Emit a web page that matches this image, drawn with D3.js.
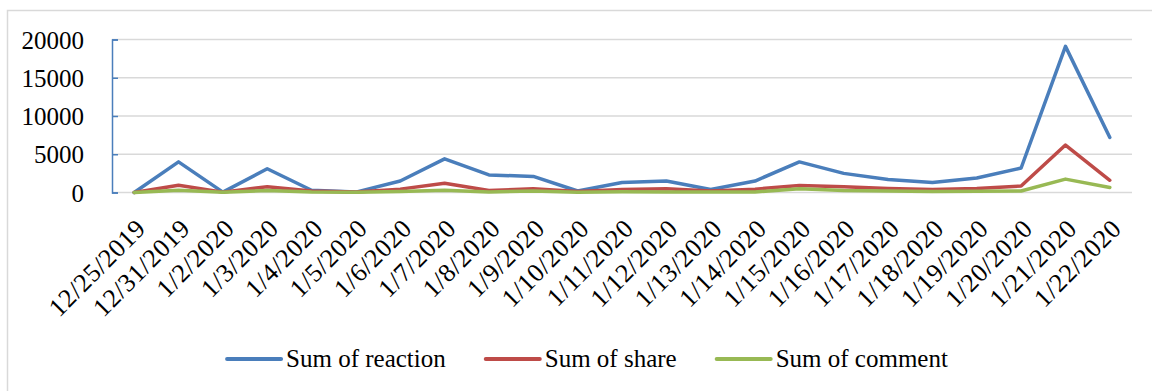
<!DOCTYPE html>
<html>
<head>
<meta charset="utf-8">
<script src="https://cdn.jsdelivr.net/npm/d3@7"></script>
<style>
  html, body { margin: 0; padding: 0; background: #fff; }
  svg { display: block; }
</style>
</head>
<body>
<div id="chart"></div>
<script>
// category labels on the x axis
const dates = ['12/25/2019', '12/31/2019', '1/2/2020', '1/3/2020', '1/4/2020', '1/5/2020',
    '1/6/2020', '1/7/2020', '1/8/2020', '1/9/2020', '1/10/2020', '1/11/2020', '1/12/2020',
    '1/13/2020', '1/14/2020', '1/15/2020', '1/16/2020', '1/17/2020', '1/18/2020',
    '1/19/2020', '1/20/2020', '1/21/2020', '1/22/2020']

// values
const reaction = [0, 4000, 50, 3100, 300, 50, 1500, 4400, 2300, 2100, 200, 1300, 1500,
    400, 1500, 4000, 2500, 1700, 1300, 1900, 3200, 19100, 7200]
const share = [0, 950, 50, 750, 200, 50, 440, 1200, 250, 480, 120, 400, 500,
    200, 440, 900, 750, 530, 400, 530, 850, 6200, 1600]
const comment = [0, 300, 20, 250, 50, 20, 120, 300, 80, 180, 40, 100, 80,
    50, 80, 500, 250, 180, 130, 150, 200, 1750, 650]

const yTicks = [0, 5000, 10000, 15000, 20000]

const series = [
    {name: 'Sum of reaction', values: reaction, color: '#4a7ebb'},
    {name: 'Sum of share', values: share, color: '#be4b48'},
    {name: 'Sum of comment', values: comment, color: '#98b954'}
]

const width = 1152,
    height = 391
const font = '"Liberation Serif", "Times New Roman", serif'

let svg = d3.select('#chart').append('svg')
    .attr('width', width)
    .attr('height', height)

// outer chart border
svg.append('rect')
    .attr('x', 7.5)
    .attr('y', 10.5)
    .attr('width', width + 10)
    .attr('height', height + 10)
    .attr('fill', 'none')
    .attr('stroke', '#d9d9d9')
    .attr('stroke-width', 1.5)

let plotLeft = 112,
    plotRight = 1132,
    plotTop = 39.5,
    plotBottom = 192.5

let x = d3.scaleBand().domain(dates).range([plotLeft, plotRight]).padding(0)
let y = d3.scaleLinear().domain([0, 20000]).range([plotBottom, plotTop])
let cx = (d) => x(d) + x.bandwidth() / 2

// gridlines
svg.append('g').attr('class', 'grid')
    .selectAll('line')
    .data(yTicks)
    .enter().append('line')
    .attr('x1', plotLeft)
    .attr('x2', plotRight)
    .attr('y1', (d) => y(d))
    .attr('y2', (d) => y(d))
    .attr('stroke', '#d9d9d9')
    .attr('stroke-width', 1.5)

// y axis: blue line, ticks pointing into the plot
let yAxis = svg.append('g')
    .attr('transform', 'translate(' + plotLeft + ',0)')
    .call(d3.axisLeft(y).tickValues(yTicks).tickSize(-6).tickPadding(28).tickFormat(d3.format('d')))
yAxis.select('.domain').attr('stroke', '#4a7ebb').attr('stroke-width', 1.5)
yAxis.selectAll('.tick line').attr('stroke', '#4a7ebb').attr('stroke-width', 1.5)
yAxis.selectAll('.tick text')
    .attr('font-family', font)
    .attr('font-size', '25px')
    .attr('fill', '#000')
    .attr('dy', '0.34em')

// x axis labels, rotated
svg.append('g').attr('class', 'x-labels')
    .selectAll('text')
    .data(dates)
    .enter().append('text')
    .attr('transform', (d) => 'translate(' + (cx(d) + 13) + ',230) rotate(-45)')
    .attr('text-anchor', 'end')
    .attr('font-family', font)
    .attr('font-size', '26px')
    .attr('letter-spacing', '0.6px')
    .attr('fill', '#000')
    .text((d) => d)

// series lines
let line = d3.line()
    .x((d, i) => cx(dates[i]))
    .y((d) => y(d))

svg.append('g').attr('class', 'lines')
    .selectAll('path')
    .data(series)
    .enter().append('path')
    .attr('d', (s) => line(s.values))
    .attr('fill', 'none')
    .attr('stroke', (s) => s.color)
    .attr('stroke-width', 3.5)
    .attr('stroke-linejoin', 'round')
    .attr('stroke-linecap', 'round')

// legend, centred under the plot
let legend = svg.append('g').attr('class', 'legend')
let legendY = 359,
    sampleLen = 54,
    sampleGap = 5,
    itemGap = 40
let items = legend.selectAll('g')
    .data(series)
    .enter().append('g')
items.append('line')
    .attr('x1', 0)
    .attr('x2', sampleLen)
    .attr('y1', 0)
    .attr('y2', 0)
    .attr('stroke', (s) => s.color)
    .attr('stroke-width', 4)
    .attr('stroke-linecap', 'round')
items.append('text')
    .attr('x', sampleLen + sampleGap)
    .attr('y', 0)
    .attr('dy', '0.3em')
    .attr('font-family', font)
    .attr('font-size', '25px')
    .attr('fill', '#000')
    .text((s) => s.name)

let widths = []
items.select('text').each(function() {
    widths.push(sampleLen + sampleGap + this.getComputedTextLength())
})
let total = d3.sum(widths) + itemGap * (widths.length - 1)
let pos = 587.5 - total / 2
items.attr('transform', (s, i) => {
    let tx = pos
    pos += widths[i] + itemGap
    return 'translate(' + tx + ',' + legendY + ')'
})
</script>
</body>
</html>
